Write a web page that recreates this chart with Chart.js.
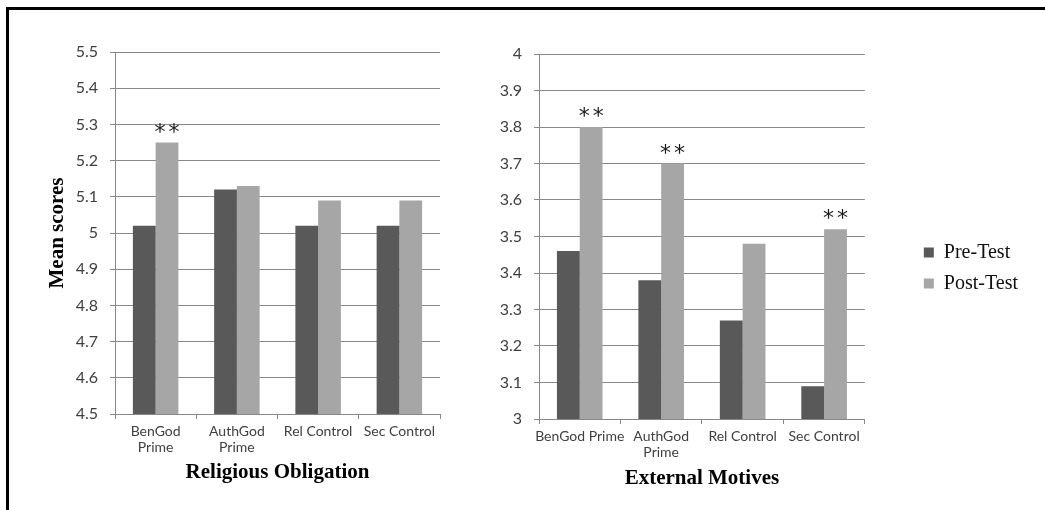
<!DOCTYPE html>
<html>
<head>
<meta charset="utf-8">
<script src="https://cdn.jsdelivr.net/npm/chart.js@4.4.0/dist/chart.umd.min.js"></script>
<style>
  html, body { margin: 0; padding: 0; background: #fff; }
  #page { position: relative; width: 1045px; height: 510px; overflow: hidden; background: #fff; }
  #frame { position: absolute; left: 6px; top: 7px; right: -5px; bottom: -5px; border-top: 3px solid #000; border-left: 3px solid #000; }
  canvas { position: absolute; top: 0; }
  #obligation { left: 0; }
  #motives { left: 460px; }
</style>
</head>
<body>
<div id="page">
  <div id="frame"></div>
  <canvas id="obligation" width="450" height="510"></canvas>
  <canvas id="motives" width="585" height="510"></canvas>
</div>
<script>
// groups on the x axis
const obligationLabels = [['BenGod', 'Prime'], ['AuthGod', 'Prime'], 'Rel Control', 'Sec Control'];
const motivesLabels = ['BenGod Prime', ['AuthGod', 'Prime'], 'Rel Control', 'Sec Control'];
const seriesNames = ['Pre-Test', 'Post-Test'];

// mean scores
const obligationPre = [5.02, 5.12, 5.02, 5.02];
const obligationPost = [5.25, 5.13, 5.09, 5.09];
const motivesPre = [3.46, 3.38, 3.27, 3.09];
const motivesPost = [3.80, 3.70, 3.48, 3.52];

// significant post-test changes (marked with **)
const obligationSig = [true, false, false, false];
const motivesSig = [true, true, false, true];

const preColor = '#595959';
const postColor = '#a6a6a6';
const gridColor = '#888888';
const tickColor = '#404040';

// draws ** over the post-test bars that are flagged
const starMarks = {
  id: 'starMarks',
  afterDatasetsDraw(chart, args, opts) {
    const meta = chart.getDatasetMeta(1);
    const ctx = chart.ctx;
    ctx.save();
    ctx.font = '22px "DejaVu Sans"';
    ctx.fillStyle = '#1a1a1a';
    ctx.textAlign = 'center';
    ctx.textBaseline = 'alphabetic';
    opts.flags.forEach((on, i) => {
      if (!on) return;
      const bar = meta.data[i];
      ctx.fillText('*', bar.x - 7, bar.y - 4);
      ctx.fillText('*', bar.x + 7, bar.y - 4);
    });
    ctx.restore();
  }
};

// nudges the legend block away from the plot
const legendShift = {
  id: 'legendShift',
  afterLayout(chart, args, opts) {
    const lg = chart.legend;
    if (!lg) return;
    lg.left += opts.x; lg.right += opts.x;
    lg.top += opts.y; lg.bottom += opts.y;
  }
};

const makeChart = (id, cfg) => {
  const ctx = document.getElementById(id).getContext('2d');
  return new Chart(ctx, {
    type: 'bar',
    data: {
      labels: cfg.labels,
      datasets: [
        { label: seriesNames[0], data: cfg.pre, backgroundColor: preColor, borderWidth: 0,
          categoryPercentage: 0.56, barPercentage: 1.0 },
        { label: seriesNames[1], data: cfg.post, backgroundColor: postColor, borderWidth: 0,
          categoryPercentage: 0.56, barPercentage: 1.0 }
      ]
    },
    plugins: [starMarks, legendShift],
    options: {
      responsive: false,
      animation: false,
      layout: { padding: cfg.padding },
      plugins: {
        tooltip: { enabled: false },
        starMarks: { flags: cfg.sig },
        legendShift: cfg.legendShift || { x: 0, y: 0 },
        legend: {
          display: cfg.legend,
          position: 'right',
          labels: {
            boxWidth: 10,
            boxHeight: 10,
            padding: 11,
            color: '#111',
            font: { family: '"Liberation Serif", "Times New Roman", serif', size: 20 }
          }
        }
      },
      scales: {
        x: {
          grid: { display: true, drawOnChartArea: false, drawTicks: true, tickLength: 5, offset: true, color: gridColor },
          border: { color: gridColor },
          ticks: {
            color: tickColor,
            padding: 4,
            maxRotation: 0,
            autoSkip: false,
            font: { family: 'Lato', size: 14, lineHeight: 1.15 }
          },
          title: {
            display: true,
            text: cfg.xTitle,
            color: '#000',
            padding: { top: 0, bottom: cfg.xTitlePad },
            font: { family: '"Liberation Serif", "Times New Roman", serif', size: 21, weight: 'bold' }
          },
          afterFit: (s) => { s.height = cfg.xHeight; }
        },
        y: {
          min: cfg.min,
          max: cfg.max,
          grid: { color: gridColor, tickLength: 5 },
          border: { color: gridColor },
          ticks: {
            stepSize: 0.1,
            color: tickColor,
            padding: 12,
            font: { family: 'Lato', size: 16 },
            callback: (v) => String(Math.round(v * 10) / 10)
          },
          title: {
            display: !!cfg.yTitle,
            text: cfg.yTitle || '',
            color: '#000',
            padding: { top: 45, bottom: 0 },
            font: { family: '"Liberation Serif", "Times New Roman", serif', size: 21, weight: 'bold' }
          },
          afterFit: (s) => { s.width = cfg.yWidth; }
        }
      }
    }
  });
};

makeChart('obligation', {
  labels: obligationLabels,
  pre: obligationPre,
  post: obligationPost,
  sig: obligationSig,
  min: 4.5,
  max: 5.5,
  xTitle: 'Religious Obligation',
  yTitle: 'Mean scores',
  legend: false,
  padding: { top: 52, right: 10, bottom: 0, left: 0 },
  xHeight: 96,
  xTitlePad: 25,
  yWidth: 115
});

makeChart('motives', {
  labels: motivesLabels,
  pre: motivesPre,
  post: motivesPost,
  sig: motivesSig,
  min: 3,
  max: 4,
  xTitle: 'External Motives',
  legend: true,
  legendShift: { x: 48, y: -14 },
  padding: { top: 54, right: 65, bottom: 0, left: 0 },
  xHeight: 91,
  xTitlePad: 19,
  yWidth: 79
});
</script>
</body>
</html>
